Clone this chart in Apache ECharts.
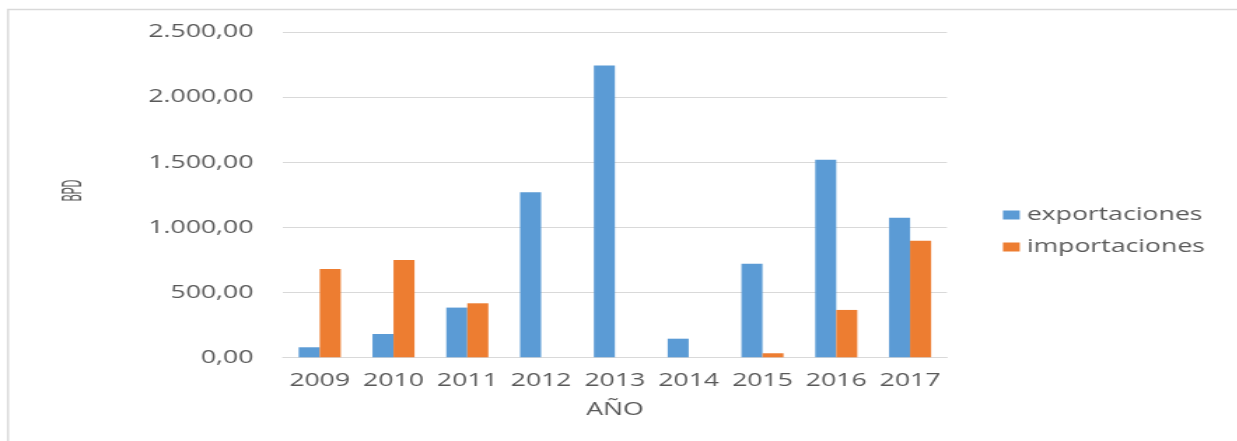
<!DOCTYPE html>
<html>
<head>
  <meta charset="utf-8">
  <title>BPD</title>
  <script src="https://cdn.jsdelivr.net/npm/echarts@6/dist/echarts.min.js"></script>
  <style>
    html, body { margin: 0; height: 100%; overflow: hidden; background: #fff; }
    /* la imagen original está estirada en horizontal, se imita con scaleX */
    #container { width: 884px; height: 441px; transform: scaleX(1.4); transform-origin: 0 0; }
  </style>
</head>
<body>
  <div id="container"></div>
  <script>
    const years = ['2009', '2010', '2011', '2012', '2013', '2014', '2015', '2016', '2017'];
    const exportaciones = [77, 179, 382, 1269, 2243, 143, 718, 1518, 1072];
    const importaciones = [679, 748, 415, 0, 0, 0, 31, 364, 895];
    const yLabels = ['0,00', '500,00', '1.000,00', '1.500,00', '2.000,00', '2.500,00'];

    const txt = '#595959';
    const font = 'Open Sans';

    const chart = echarts.init(document.getElementById('container'));
    chart.setOption({
      animation: false,
      color: ['#5B9BD5', '#ED7D31'],
      graphic: [
        {
          type: 'rect',
          shape: { x: 5.7, y: 9.5, width: 2000, height: 2000 },
          style: { fill: 'none', stroke: '#D9D9D9', lineWidth: 1.5 },
          silent: true
        },
        {
          // título del eje vertical, letra estrecha
          type: 'text',
          x: 52, y: 190.5,
          rotation: Math.PI / 2,
          scaleX: 0.5,
          style: {
            text: 'BPD', fill: txt, fontFamily: 'Liberation Sans', fontSize: 21,
            align: 'center', verticalAlign: 'middle'
          }
        }
      ],
      grid: { left: 202, right: 207.6, top: 32, bottom: 83.7 },
      legend: {
        orient: 'vertical',
        left: 711.4,
        top: 200,
        icon: 'rect',
        itemWidth: 12,
        itemHeight: 9,
        itemGap: 12,
        textStyle: { color: txt, fontFamily: font, fontSize: 19, lineHeight: 20, padding: [0, 0, 0, 0] },
        data: ['exportaciones', 'importaciones']
      },
      xAxis: {
        type: 'category',
        data: years,
        name: 'AÑO',
        nameLocation: 'middle',
        nameGap: 43,
        nameTextStyle: { color: txt, fontFamily: font, fontSize: 19 },
        axisLine: { lineStyle: { color: '#D9D9D9', width: 1 } },
        axisTick: { show: false },
        axisLabel: { color: txt, fontFamily: font, fontSize: 19, margin: 14, interval: 0 }
      },
      yAxis: {
        type: 'value',
        min: 0,
        max: 2500,
        interval: 500,
        axisLine: { show: false },
        axisTick: { show: false },
        splitLine: { lineStyle: { color: '#D9D9D9', width: 1 } },
        axisLabel: {
          color: txt, fontFamily: font, fontSize: 19, margin: 21,
          formatter: v => yLabels[Math.round(v / 500)]
        }
      },
      series: [
        {
          name: 'exportaciones',
          type: 'bar',
          data: exportaciones,
          barGap: '0%',
          barCategoryGap: '43%'
        },
        {
          name: 'importaciones',
          type: 'bar',
          data: importaciones,
          barGap: '0%',
          barCategoryGap: '43%'
        }
      ]
    });
  </script>
</body>
</html>
